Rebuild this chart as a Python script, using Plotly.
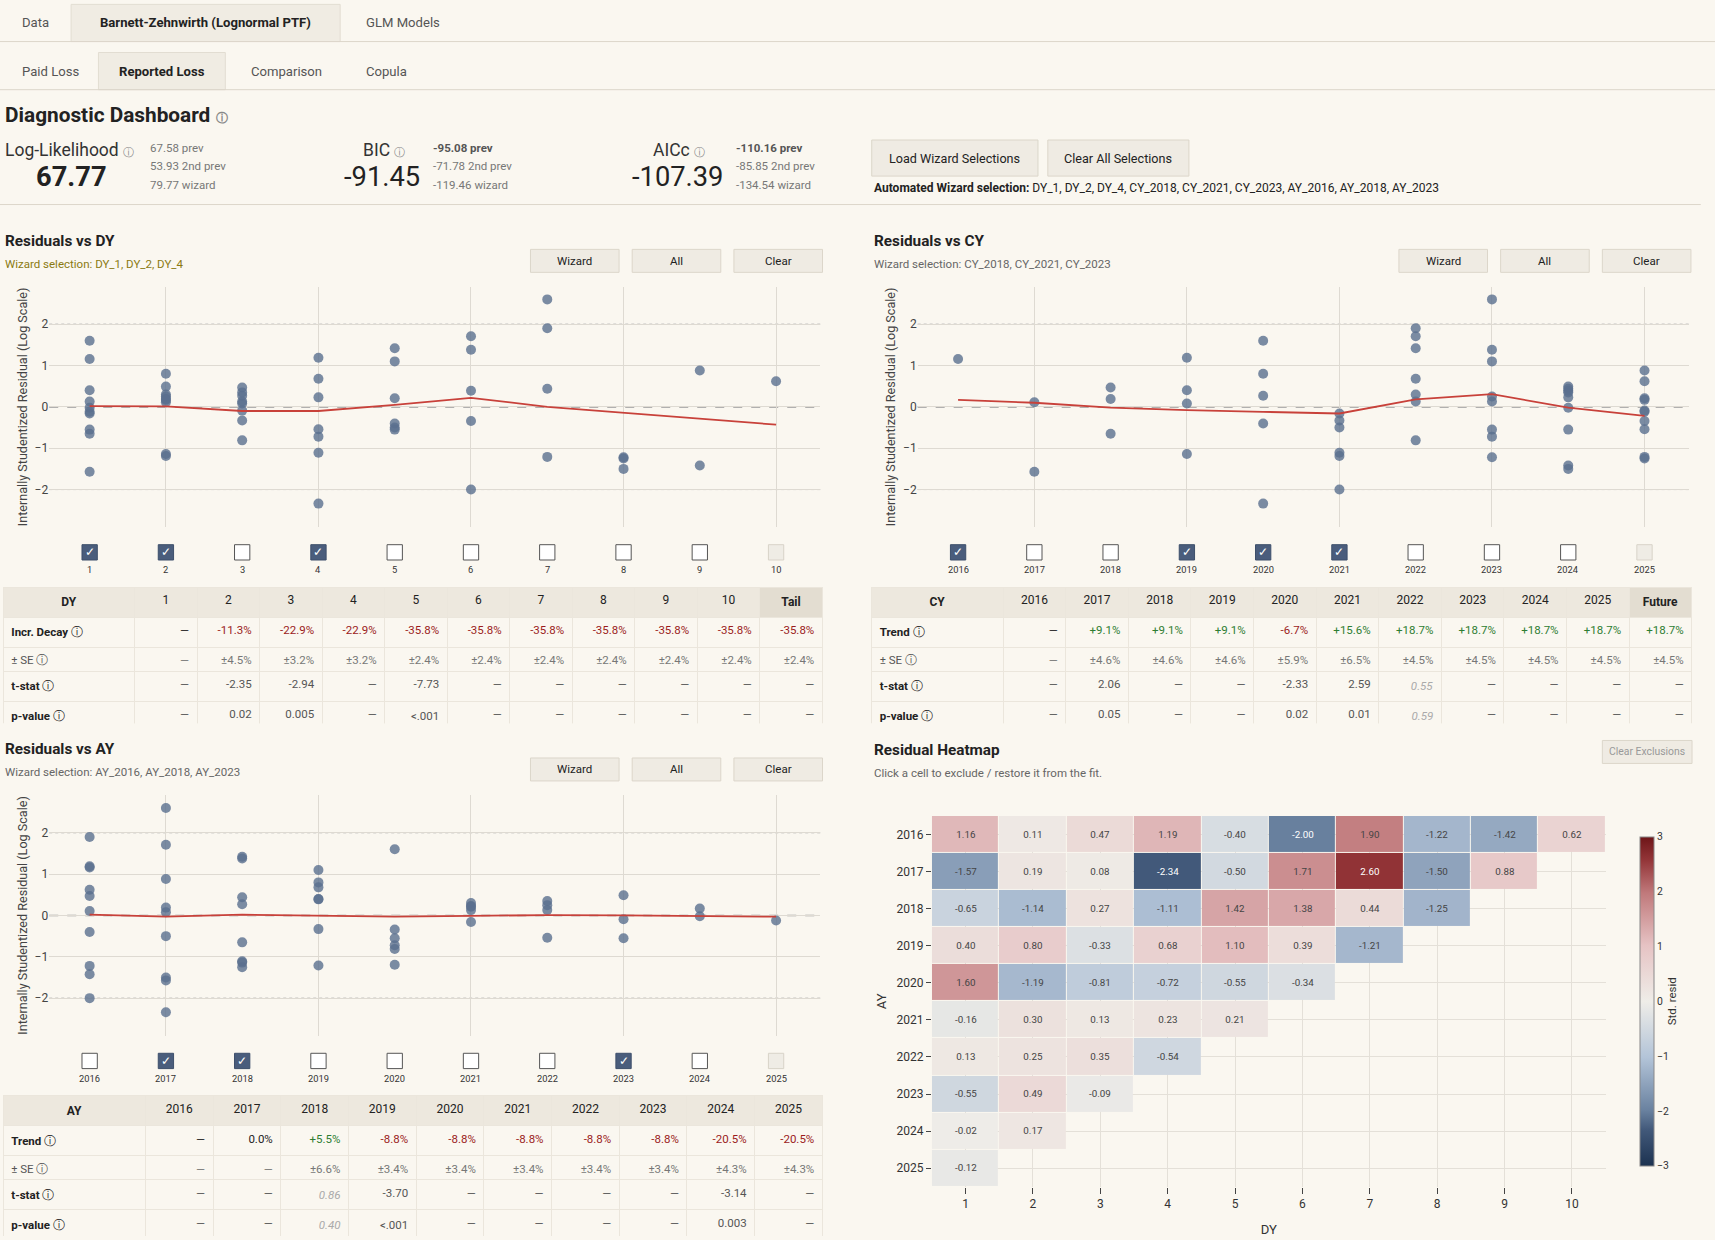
import plotly.graph_objects as go

# ---------------- DATA ----------------
AY_YEARS = [2016, 2017, 2018, 2019, 2020, 2021, 2022, 2023, 2024, 2025]
DY_LAGS = [1, 2, 3, 4, 5, 6, 7, 8, 9, 10]
CY_YEARS = [2016, 2017, 2018, 2019, 2020, 2021, 2022, 2023, 2024, 2025]
RESID = [
    [1.16, 0.11, 0.47, 1.19, -0.40, -2.00, 1.90, -1.22, -1.42, 0.62],
    [-1.57, 0.19, 0.08, -2.34, -0.50, 1.71, 2.60, -1.50, 0.88],
    [-0.65, -1.14, 0.27, -1.11, 1.42, 1.38, 0.44, -1.25],
    [0.40, 0.80, -0.33, 0.68, 1.10, 0.39, -1.21],
    [1.60, -1.19, -0.81, -0.72, -0.55, -0.34],
    [-0.16, 0.30, 0.13, 0.23, 0.21],
    [0.13, 0.25, 0.35, -0.54],
    [-0.55, 0.49, -0.09],
    [-0.02, 0.17],
    [-0.12],
]
DY_TREND = [0.02, 0.01, -0.10, -0.10, 0.05, 0.22, 0.00, -0.14, -0.28, -0.43]
CY_TREND = [0.17, 0.10, -0.02, -0.08, -0.12, -0.16, 0.18, 0.31, -0.02, -0.22]
AY_TREND = [0.02, -0.03, 0.02, 0.00, -0.03, -0.01, 0.01, 0.00, -0.01, -0.03]
DY_CHECKED = [True, True, False, True, False, False, False, False, False, False]
CY_CHECKED = [True, False, False, True, True, True, False, False, False, False]
AY_CHECKED = [False, True, True, False, False, False, False, True, False, False]

DY_TABLE_HEAD = ["DY", "1", "2", "3", "4", "5", "6", "7", "8", "9", "10", "Tail"]
DY_DECAY = ["—", "-11.3%", "-22.9%", "-22.9%", "-35.8%", "-35.8%", "-35.8%", "-35.8%", "-35.8%", "-35.8%", "-35.8%"]
DY_SE = ["—", "±4.5%", "±3.2%", "±3.2%", "±2.4%", "±2.4%", "±2.4%", "±2.4%", "±2.4%", "±2.4%", "±2.4%"]
DY_T = ["—", "-2.35", "-2.94", "—", "-7.73", "—", "—", "—", "—", "—", "—"]
DY_P = ["—", "0.02", "0.005", "—", "<.001", "—", "—", "—", "—", "—", "—"]

CY_TABLE_HEAD = ["CY", "2016", "2017", "2018", "2019", "2020", "2021", "2022", "2023", "2024", "2025", "Future"]
CY_TRENDV = ["—", "+9.1%", "+9.1%", "+9.1%", "-6.7%", "+15.6%", "+18.7%", "+18.7%", "+18.7%", "+18.7%", "+18.7%"]
CY_SE = ["—", "±4.6%", "±4.6%", "±4.6%", "±5.9%", "±6.5%", "±4.5%", "±4.5%", "±4.5%", "±4.5%", "±4.5%"]
CY_T = ["—", "2.06", "—", "—", "-2.33", "2.59", "<i>0.55</i>", "—", "—", "—", "—"]
CY_P = ["—", "0.05", "—", "—", "0.02", "0.01", "<i>0.59</i>", "—", "—", "—", "—"]

AY_TABLE_HEAD = ["AY", "2016", "2017", "2018", "2019", "2020", "2021", "2022", "2023", "2024", "2025"]
AY_TRENDV = ["—", "0.0%", "+5.5%", "-8.8%", "-8.8%", "-8.8%", "-8.8%", "-8.8%", "-20.5%", "-20.5%"]
AY_SE = ["—", "—", "±6.6%", "±3.4%", "±3.4%", "±3.4%", "±3.4%", "±3.4%", "±4.3%", "±4.3%"]
AY_T = ["—", "—", "<i>0.86</i>", "-3.70", "—", "—", "—", "—", "-3.14", "—"]
AY_P = ["—", "—", "<i>0.40</i>", "<.001", "—", "—", "—", "—", "0.003", "—"]

# ---------------- STYLE ----------------
FW, FH = 1715, 1240
BG = "#faf7f0"
DARK = "#222222"
GRAY = "#777777"
RED = "#9b1c1c"
GREEN = "#2e7d32"
DOT = "#5a6f8e"
FONT = "Roboto, sans-serif"
S = 1715 / 1568
OFF = 0


def X(x):
    return (x * S - OFF) / FW


def Y(y):
    return 1 - (y * S - OFF) / FH


def cl(v):
    return min(1.0, max(0.0, v))


def fs(v):
    return round(v * S, 1)


fig = go.Figure()
shapes = []
ann = []


def text(x, y, t, size=11, color=DARK, xa="left", ya="middle", bold=False, font=FONT, **kw):
    if bold:
        t = "<b>" + t + "</b>"
    ann.append(dict(x=X(x), y=Y(y), xref="paper", yref="paper", text=t, showarrow=False,
                    xanchor=xa, yanchor=ya, font=dict(size=fs(size), color=color, family=font), **kw))


def rect(x0, y0, x1, y1, fill="#efebe3", line="#dcd6ca", lw=1, layer="below"):
    shapes.append(dict(type="rect", xref="paper", yref="paper", x0=X(x0), x1=X(x1), y0=Y(y1), y1=Y(y0),
                       fillcolor=fill, line=dict(color=line, width=lw), layer=layer))


def hline(x0, x1, y, color="#dcd6ca", w=1):
    shapes.append(dict(type="line", xref="paper", yref="paper", x0=X(x0), x1=X(x1), y0=Y(y), y1=Y(y),
                       line=dict(color=color, width=w)))


def button(x0, y0, x1, y1, label, size=11, color=DARK):
    rect(x0, y0, x1, y1)
    text((x0 + x1) / 2, (y0 + y1) / 2, label, size=size, color=color, xa="center")


# ---- tabs
rect(65, 4, 311, 38, fill="#f0ece3", line="#e2ddd2")
hline(0, 1568, 38)
text(18, 21, "Data", 12, "#555")
text(188, 21, "Barnett-Zehnwirth (Lognormal PTF)", 12, DARK, xa="center", bold=True)
text(333, 21, "GLM Models", 12, "#555")
rect(90, 48, 206, 82, fill="#f0ece3", line="#e2ddd2")
hline(0, 1568, 82)
text(18, 65, "Paid Loss", 12, "#555")
text(148, 65, "Reported Loss", 12, DARK, xa="center", bold=True)
text(228, 65, "Comparison", 12, "#555")
text(333, 65, "Copula", 12, "#555")

# ---- header
text(3, 105, "Diagnostic Dashboard <span style='font-size:12px;color:#888'>ⓘ</span>", 19, DARK, bold=True)
text(3, 137, "Log-Likelihood <span style='font-size:11px;color:#888'>ⓘ</span>", 16, "#333")
text(65, 162, "67.77", 25, DARK, xa="center", bold=True)
text(135, 135, "67.58 prev", 10.5, GRAY)
text(135, 152, "53.93 2nd prev", 10.5, GRAY)
text(135, 169, "79.77 wizard", 10.5, GRAY)
text(372, 137, "BIC <span style='font-size:11px;color:#888'>ⓘ</span>", 16, "#333", xa="right")
text(386, 162, "-91.45", 25, DARK, xa="right")
text(394, 135, "-95.08 prev", 10.5, "#555", bold=True)
text(394, 152, "-71.78 2nd prev", 10.5, GRAY)
text(394, 169, "-119.46 wizard", 10.5, GRAY)
text(646, 137, "AICc <span style='font-size:11px;color:#888'>ⓘ</span>", 16, "#333", xa="right")
text(663, 162, "-107.39", 25, DARK, xa="right")
text(671, 135, "-110.16 prev", 10.5, "#555", bold=True)
text(671, 152, "-85.85 2nd prev", 10.5, GRAY)
text(671, 169, "-134.54 wizard", 10.5, GRAY)
button(797, 128, 949, 161, "Load Wizard Selections", 11.5)
button(958, 128, 1087, 161, "Clear All Selections", 11.5)
text(797, 172, "<b>Automated Wizard selection:</b> DY_1, DY_2, DY_4, CY_2018, CY_2021, CY_2023, AY_2016, AY_2018, AY_2023", 11, DARK)
hline(0, 1555, 187)

# ---- scatter panels
panels = [
    dict(ax="", x0=0, y0=0, title="Residuals vs DY", sel="Wizard selection: DY_1, DY_2, DY_4", selc="#8a7a10",
         cats=DY_LAGS, trend=DY_TREND, checked=DY_CHECKED, labels=[str(v) for v in DY_LAGS], mode="dy"),
    dict(ax="2", x0=794, y0=0, title="Residuals vs CY", sel="Wizard selection: CY_2018, CY_2021, CY_2023", selc="#666",
         cats=CY_YEARS, trend=CY_TREND, checked=CY_CHECKED, labels=[str(v) for v in CY_YEARS], mode="cy"),
    dict(ax="3", x0=0, y0=465, title="Residuals vs AY", sel="Wizard selection: AY_2016, AY_2018, AY_2023", selc="#666",
         cats=AY_YEARS, trend=AY_TREND, checked=AY_CHECKED, labels=[str(v) for v in AY_YEARS], mode="ay"),
]

for p in panels:
    ox, oy = p["x0"], p["y0"]
    text(ox + 3, oy + 220, p["title"], 14, DARK, bold=True)
    text(ox + 3, oy + 241, p["sel"], 10.5, p["selc"])
    button(ox + 485, oy + 228, ox + 566, oy + 249, "Wizard", 10.5)
    button(ox + 578, oy + 228, ox + 659, oy + 249, "All", 10.5)
    button(ox + 671, oy + 228, ox + 752, oy + 249, "Clear", 10.5)
    xs, ys = [], []
    for ai, row in enumerate(RESID):
        for di, v in enumerate(row):
            if p["mode"] == "dy":
                xs.append(DY_LAGS[di])
            elif p["mode"] == "cy":
                xs.append(CY_YEARS[ai + di])
            else:
                xs.append(AY_YEARS[ai])
            ys.append(v)
    c0 = p["cats"][0]
    xa = "x" + p["ax"]
    ya = "y" + p["ax"]
    fig.add_trace(go.Scatter(x=xs, y=ys, mode="markers", xaxis=xa, yaxis=ya, showlegend=False,
                             marker=dict(size=10, color=DOT, opacity=0.8)))
    fig.add_trace(go.Scatter(x=p["cats"], y=p["trend"], mode="lines", xaxis=xa, yaxis=ya, showlegend=False,
                             line=dict(color="#c8413a", width=1.8)))
    for yv, col, dash, wd in [(0, "#999", "dash", 1.6), (2, "#aaa", "dot", 1), (-2, "#aaa", "dot", 1)]:
        shapes.append(dict(type="line", xref=xa + " domain", yref=ya, x0=0, x1=1, y0=yv, y1=yv,
                           line=dict(color=col, dash=dash, width=wd), layer="below"))
    lo, hi = c0 - 0.53, c0 + 9 + 0.58
    dx0, dx1 = ox + 45, ox + 750
    fig.update_layout(**{
        "xaxis" + p["ax"]: dict(domain=[X(dx0), X(dx1)], range=[lo, hi], showticklabels=False,
                                tickvals=p["cats"][1::2], showgrid=True, gridcolor="#dedad2", zeroline=False,
                                anchor=ya),
        "yaxis" + p["ax"]: dict(domain=[Y(oy + 482), Y(oy + 262)], range=[-2.91, 2.91], tickvals=[-2, -1, 0, 1, 2],
                                ticktext=["−2", "−1", "0", "1", "2"], showgrid=True, gridcolor="#dedad2",
                                zeroline=False, tickfont=dict(size=fs(11), color="#444"), anchor=xa,
                                title=dict(text="Internally Studentized Residual (Log Scale)",
                                           font=dict(size=fs(11.5), color="#444"), standoff=4)),
    })
    for v, lab, chk in zip(p["cats"], p["labels"], p["checked"]):
        last = v == p["cats"][-1]
        cx = dx0 + (v - lo) / (hi - lo) * (dx1 - dx0)
        fill = "#4a5d7c" if chk else ("#efece5" if last else "#ffffff")
        lc = "#3d4f6b" if chk else ("#d8d3c8" if last else "#555")
        rect(cx - 7, oy + 498, cx + 7, oy + 512, fill=fill, line=lc, layer="above")
        if chk:
            text(cx, oy + 505, "✓", 11, "white", xa="center")
        text(cx, oy + 521, lab, 8.5, "#333", xa="center")

# ---- tables
INFO = " ⓘ"


def add_table(x0, x1, y0, y1, head, first, rows, colors, tail):
    n = len(head)
    cols = [["<b>%s</b>%s" % (first, INFO), "± SE" + INFO, "<b>t-stat</b>" + INFO, "<b>p-value</b>" + INFO]]
    fcols = [[DARK, "#555", DARK, DARK]]
    for j in range(1, n):
        cols.append([rows[r][j - 1] for r in range(4)])
        fcols.append([colors[r][j - 1] for r in range(4)])
    widths = [2.1] + [1.0] * (n - 1)
    hfill = ["#ede8de"] * n
    if tail:
        hfill[-1] = "#e3ddd1"
    fig.add_trace(go.Table(
        domain=dict(x=[cl(X(x0)), cl(X(x1))], y=[cl(Y(y1)), cl(Y(y0))]),
        columnwidth=widths,
        header=dict(values=["<b>%s</b>" % h if (i == 0 or (tail and i == n - 1)) else h for i, h in enumerate(head)],
                    fill_color=hfill, line=dict(color="#ebe6dc", width=1), align="center", height=24,
                    font=dict(size=fs(11), color=DARK, family=FONT)),
        cells=dict(values=cols, fill_color=BG, line=dict(color="#ebe6dc", width=1),
                   align=["left"] + ["right"] * (n - 1), height=24,
                   font=dict(size=fs(10.5), color=fcols, family=FONT)),
    ))


def colorize(vals):
    out = []
    for v in vals:
        if v.startswith("+"):
            out.append(GREEN)
        elif v.startswith("-") and v.endswith("%"):
            out.append(RED)
        else:
            out.append(DARK)
    return out


def graycol(vals):
    return ["#aaa" if "<i>" in v else "#555" for v in vals]


add_table(3, 752, 537, 662, DY_TABLE_HEAD, "Incr. Decay", [DY_DECAY, DY_SE, DY_T, DY_P],
          [colorize(DY_DECAY), [GRAY] * 11, graycol(DY_T), graycol(DY_P)], True)
add_table(797, 1547, 537, 662, CY_TABLE_HEAD, "Trend", [CY_TRENDV, CY_SE, CY_T, CY_P],
          [colorize(CY_TRENDV), [GRAY] * 11, graycol(CY_T), graycol(CY_P)], True)
add_table(3, 752, 1002, 1130, AY_TABLE_HEAD, "Trend", [AY_TRENDV, AY_SE, AY_T, AY_P],
          [colorize(AY_TRENDV), [GRAY] * 10, graycol(AY_T), graycol(AY_P)], False)

# ---- heatmap
text(797, 686, "Residual Heatmap", 14, DARK, bold=True)
text(797, 707, "Click a cell to exclude / restore it from the fit.", 10.5, "#666")
button(1465, 677, 1547, 698, "Clear Exclusions", 9.5, "#999")
z = [row + [None] * (10 - len(row)) for row in RESID]
ztxt = [["%.2f" % v for v in row] + [""] * (10 - len(row)) for row in RESID]
fig.add_trace(go.Heatmap(
    z=z, x=DY_LAGS, y=AY_YEARS, text=ztxt, texttemplate="%{text}", xaxis="x4", yaxis="y4",
    textfont=dict(size=fs(9), family=FONT),
    zmin=-3, zmax=3, xgap=1, ygap=1, hoverongaps=False,
    colorscale=[[0, "#1c3250"], [0.11, "#42597a"], [0.17, "#6a82a0"], [0.33, "#b3c4d8"], [0.5, "#efede8"],
                [0.67, "#e6c3c4"], [0.83, "#c0797b"], [0.93, "#933538"], [1, "#6e1518"]],
    colorbar=dict(x=X(1490), xanchor="left", y=Y(1075), yanchor="bottom", len=(1075 - 756) * S / FH,
                  thickness=fs(13), outlinewidth=1, outlinecolor="#888", tickvals=[-3, -2, -1, 0, 1, 2, 3],
                  ticktext=["−3", "−2", "−1", "0", "1", "2", "3"],
                  tickfont=dict(size=fs(9.5), color="#333"), ticks="",
                  title=dict(text="Std. resid", side="right", font=dict(size=fs(10.5), color="#333"))),
))
fig.update_layout(
    xaxis4=dict(domain=[X(852), X(1468)], range=[0.5, 10.5], tickvals=DY_LAGS, ticks="outside", ticklen=6,
                tickcolor="#444", showgrid=True, gridcolor="#e4e0d8", zeroline=False, anchor="y4",
                tickfont=dict(size=fs(11), color="#333"),
                title=dict(text="DY", font=dict(size=fs(12), color="#333"), standoff=14)),
    yaxis4=dict(domain=[Y(1085), Y(746)], range=[2025.5, 2015.5], tickvals=AY_YEARS, ticks="outside", ticklen=5,
                tickcolor="#444", showgrid=True, gridcolor="#e4e0d8", zeroline=False, anchor="x4",
                tickfont=dict(size=fs(11), color="#333"),
                title=dict(text="AY", font=dict(size=fs(12), color="#333"), standoff=6)),
)

fig.update_layout(width=FW, height=FH, margin=dict(l=0, r=0, t=0, b=0), paper_bgcolor=BG, plot_bgcolor=BG,
                  font=dict(family=FONT, color=DARK), shapes=shapes, annotations=ann, showlegend=False)
fig.write_html("out.html", config={"displayModeBar": False},
               post_script="document.body.style.margin='0';document.body.style.overflow='hidden';document.body.style.background='%s';" % BG)
